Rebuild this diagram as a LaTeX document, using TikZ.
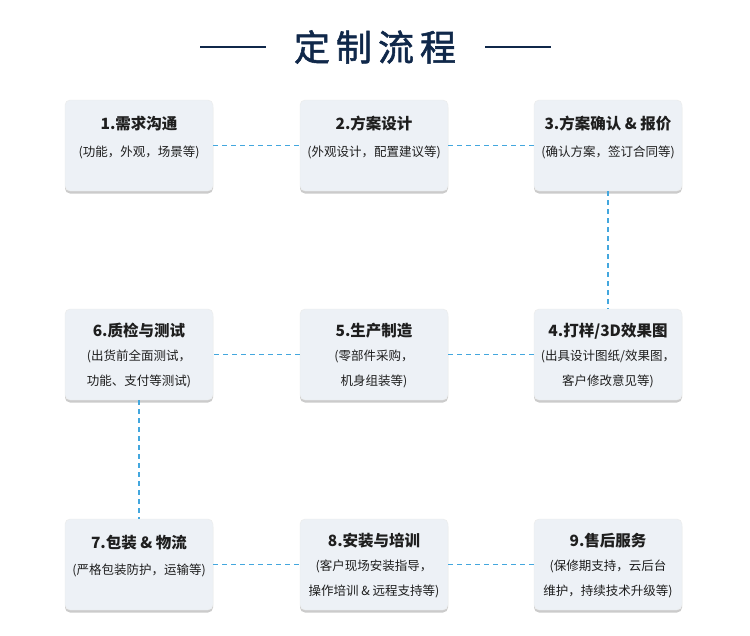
\documentclass[tikz,border=0pt]{standalone}
\usepackage{fontspec}
\newfontfamily\cjk{Noto Sans CJK SC}
\newfontfamily\cjkb{Noto Sans CJK SC}[FakeBold=1.5]
\usetikzlibrary{shadows}
\definecolor{navy}{HTML}{10284A}
\definecolor{boxfill}{HTML}{EDF1F6}
\definecolor{linkblue}{HTML}{43A7DE}
\definecolor{txt}{HTML}{1E1E1E}
\begin{document}
\begin{tikzpicture}[x=1pt,y=-1pt,
  stepbox/.style={rounded corners=5pt, fill=boxfill, draw=black!8, line width=0.4pt,
    minimum width=148pt, minimum height=91pt, inner sep=0pt,
    drop shadow={shadow xshift=0pt, shadow yshift=-2.5pt, fill=black!45, opacity=0.45}},
  ttl/.style={font=\cjk\bfseries\fontsize{15.5}{18}\selectfont, text=txt},
  sub/.style={font=\cjk\fontsize{12.5}{25}\selectfont, text=txt, align=center},
  link/.style={draw=linkblue, line width=1.8pt, dash pattern=on 5pt off 4pt}]
\useasboundingbox (0,0) rectangle (750,635);
\fill[white] (0,0) rectangle (750,635);
% title
\node[font=\cjkb\fontsize{36}{40}\selectfont, text=navy] (title) at (375,47) {定\,制\,流\,程};
\coordinate (l1) at (200,47); \coordinate (l2) at (266,47);
\coordinate (r1) at (485,47); \coordinate (r2) at (551,47);
\draw[navy, line width=2.6pt] (l1) -- (l2);
\draw[navy, line width=2.6pt] (r1) -- (r2);
% boxes
\node[stepbox] (b1) at (139,145.5) {};
\node[stepbox] (b2) at (374,145.5) {};
\node[stepbox] (b3) at (608,145.5) {};
\node[stepbox] (b6) at (139,354.5) {};
\node[stepbox] (b5) at (374,354.5) {};
\node[stepbox] (b4) at (608,354.5) {};
\node[stepbox] (b7) at (139,564.5) {};
\node[stepbox] (b8) at (374,564.5) {};
\node[stepbox] (b9) at (608,564.5) {};
% connectors
\draw[link] (b1.east) -- (b2.west);
\draw[link] (b2.east) -- (b3.west);
\draw[link] (b3.south) -- (b4.north);
\draw[link] (b4.west) -- (b5.east);
\draw[link] (b5.west) -- (b6.east);
\draw[link] (b6.south) -- (b7.north);
\draw[link] (b7.east) -- (b8.west);
\draw[link] (b8.east) -- (b9.west);
% texts
\node[ttl] (t1) at (139,124) {1.需求沟通};
\node[sub] (s1) at (139,152) {(功能，外观，场景等)};
\node[ttl] (t2) at (374,124) {2.方案设计};
\node[sub] (s2) at (374,152) {(外观设计，配置建议等)};
\node[ttl] (t3) at (608,124) {3.方案确认 \& 报价};
\node[sub] (s3) at (608,152) {(确认方案，签订合同等)};
\node[ttl] (t6) at (139,331) {6.质检与测试};
\node[sub] (s6) at (139,368.5) {(出货前全面测试，\\功能、支付等测试)};
\node[ttl] (t5) at (374,331) {5.生产制造};
\node[sub] (s5) at (374,368.5) {(零部件采购，\\机身组装等)};
\node[ttl] (t4) at (608,331) {4.打样/3D效果图};
\node[sub] (s4) at (608,368.5) {(出具设计图纸/效果图，\\客户修改意见等)};
\node[ttl] (t7) at (139,543) {7.包装 \& 物流};
\node[sub] (s7) at (139,570) {(严格包装防护，运输等)};
\node[ttl] (t8) at (374,541) {8.安装与培训};
\node[sub] (s8) at (374,578.5) {(客户现场安装指导，\\操作培训 \& 远程支持等)};
\node[ttl] (t9) at (608,541) {9.售后服务};
\node[sub] (s9) at (608,578.5) {(保修期支持，云后台\\维护，持续技术升级等)};
\end{tikzpicture}
\end{document}
